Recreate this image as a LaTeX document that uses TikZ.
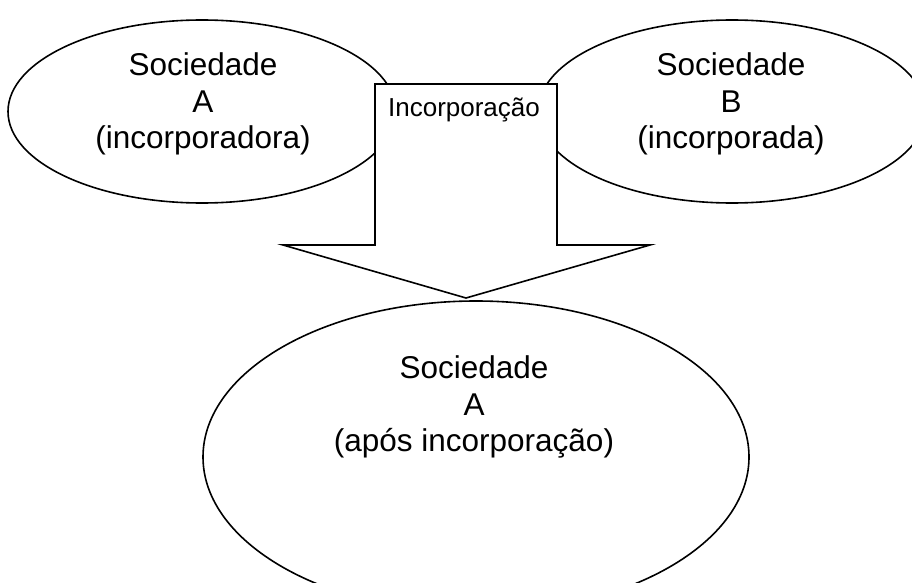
\documentclass[tikz,border=0pt]{standalone}
\usepackage{fontspec}
\setmainfont{Liberation Sans}
\usetikzlibrary{shapes.geometric}
\begin{document}
\begin{tikzpicture}[x=1pt,y=-1pt,
  line width=1.6pt,
  oval/.style={draw=black,fill=white,ellipse,inner sep=0pt},
  bigtxt/.style={align=center,inner sep=0pt,font=\fontsize{31.5}{36.5}\selectfont},
  arrowshape/.style={draw=black,fill=white,line join=miter}]
\useasboundingbox (0,0) rectangle (912,583);
\begin{scope}
\clip (0,0) rectangle (912,583);
\node[oval,minimum width=388pt,minimum height=183pt] (ellA) at (202,111.5) {};
\node[oval,minimum width=388pt,minimum height=183pt] (ellB) at (732,111.5) {};
\node[oval,minimum width=546pt,minimum height=312pt] (ellC) at (476,457) {};
\end{scope}
\node[bigtxt] (txtA) at (203,104) {Sociedade\\A\\(incorporadora)};
\node[bigtxt] (txtB) at (731,104) {Sociedade\\B\\(incorporada)};
\node[bigtxt] (txtC) at (474,407) {Sociedade\\A\\(após incorporação)};
\coordinate (s1) at (375,84);
\coordinate (s2) at (557,84);
\coordinate (s3) at (557,245);
\coordinate (h1) at (650,245);
\coordinate (tip) at (466,298);
\coordinate (h2) at (283,245);
\coordinate (s4) at (375,245);
\draw[arrowshape] (s1) -- (s2) -- (s3) -- (h1) -- (tip) -- (h2) -- (s4) -- cycle;
\node[inner sep=0pt,anchor=base,font=\fontsize{26}{30}\selectfont] (inc) at (464,117) {Incorporação};
\end{tikzpicture}
\end{document}
